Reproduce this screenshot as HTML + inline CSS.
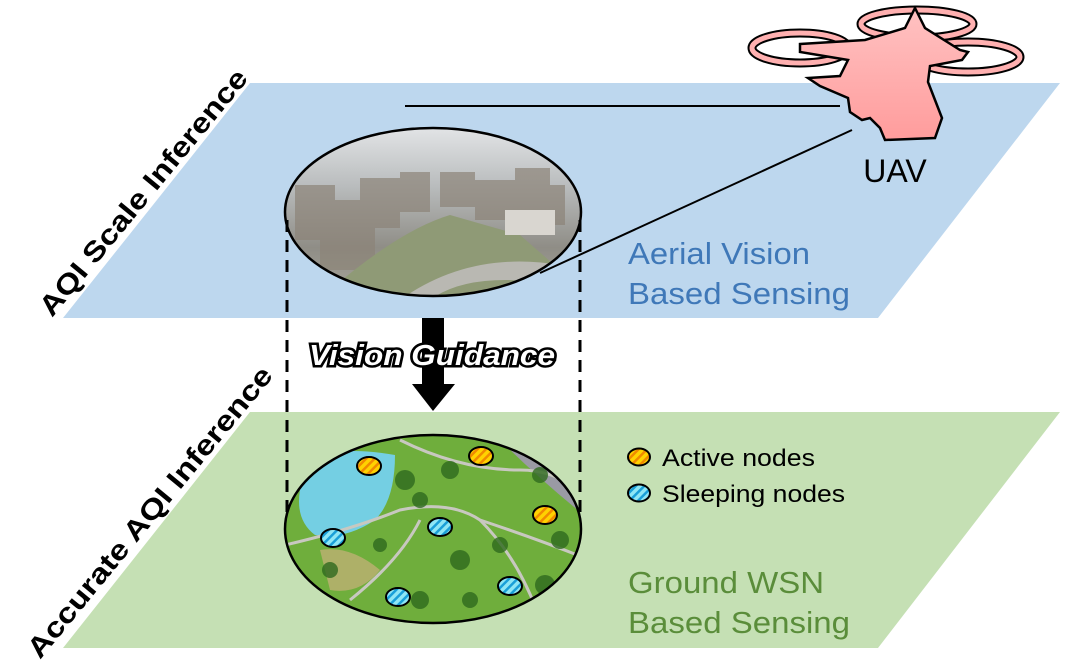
<!DOCTYPE html>
<html><head><meta charset="utf-8"><style>
html,body{margin:0;padding:0;background:#fff;}
svg{display:block;font-family:"Liberation Sans",sans-serif;}
</style></head><body>
<svg width="1073" height="663" viewBox="0 0 1073 663">
<defs>
<linearGradient id="sky" x1="0" y1="0" x2="0" y2="1">
<stop offset="0" stop-color="#e4e6e8"/><stop offset="0.35" stop-color="#b9bcbd"/><stop offset="0.7" stop-color="#8f8d86"/><stop offset="1" stop-color="#a8a69c"/></linearGradient>
<pattern id="ystripe" width="6" height="6" patternUnits="userSpaceOnUse" patternTransform="rotate(45)">
<rect width="6" height="6" fill="#ffd200"/><rect width="2.5" height="6" fill="#f08a00"/></pattern>
<pattern id="bstripe" width="6" height="6" patternUnits="userSpaceOnUse" patternTransform="rotate(45)">
<rect width="6" height="6" fill="#8ee6f5"/><rect width="2.5" height="6" fill="#1a9fd8"/></pattern>
<linearGradient id="drone" x1="0" y1="0" x2="0" y2="1"><stop offset="0" stop-color="#ffc2c2"/><stop offset="1" stop-color="#ff9c9c"/></linearGradient>
<clipPath id="c1"><ellipse cx="433" cy="212" rx="148" ry="84"/></clipPath>
<clipPath id="c2"><ellipse cx="433" cy="529" rx="148" ry="94"/></clipPath>
</defs>

<polygon points="250,83 1060,83 878,318 63,318" fill="#bdd7ee"/>
<polygon points="250,412 1060,412 878,648 63,648" fill="#c5e0b4"/>

<text transform="translate(52,318) rotate(-50.5)" font-size="28" font-weight="bold" textLength="310" lengthAdjust="spacingAndGlyphs">AQI Scale Inference</text>
<text transform="translate(40,660) rotate(-50.5)" font-size="28" font-weight="bold" textLength="368" lengthAdjust="spacingAndGlyphs">Accurate AQI Inference</text>

<line x1="405" y1="106" x2="840" y2="106" stroke="#000" stroke-width="2"/>
<line x1="540" y1="273" x2="852" y2="130" stroke="#000" stroke-width="2"/>

<g clip-path="url(#c1)">
<rect x="280" y="125" width="310" height="175" fill="url(#sky)"/>
<g fill="#8c8478" opacity="0.7">
<rect x="295" y="185" width="40" height="55"/><rect x="320" y="200" width="55" height="70"/><rect x="360" y="178" width="40" height="50"/>
<rect x="400" y="172" width="30" height="40"/><rect x="440" y="172" width="35" height="35"/><rect x="475" y="180" width="50" height="40"/>
<rect x="515" y="168" width="35" height="30"/><rect x="520" y="185" width="45" height="40"/></g>
<path d="M330,290 Q400,230 450,215 L520,235 L560,270 L540,300 Z" fill="#8f9a76"/>
<path d="M400,300 Q470,250 560,265 L560,285 Q470,270 430,300 Z" fill="#b9b8b2"/>
<rect x="505" y="210" width="50" height="25" fill="#d9d6d0"/>
</g>
<ellipse cx="433" cy="212" rx="148" ry="84" fill="none" stroke="#000" stroke-width="2.5"/>

<line x1="287" y1="220" x2="287" y2="528" stroke="#000" stroke-width="3" stroke-dasharray="12,8"/>
<line x1="580" y1="220" x2="580" y2="528" stroke="#000" stroke-width="3" stroke-dasharray="12,8"/>

<g>
<rect x="422" y="318" width="22" height="68" fill="#000"/>
<polygon points="412,384 455,384 433,411" fill="#000"/>
</g>
<text x="432" y="365" text-anchor="middle" font-size="29" font-weight="bold" font-style="italic" fill="#fff" stroke="#000" stroke-width="5" paint-order="stroke" textLength="246" lengthAdjust="spacingAndGlyphs">Vision Guidance</text>

<g clip-path="url(#c2)">
<rect x="280" y="430" width="310" height="200" fill="#6fae3c"/>
<path d="M500,430 L590,430 L590,520 Q540,480 500,440 Z" fill="#9a9aa4"/>
<path d="M300,460 Q340,445 395,455 Q395,500 375,520 Q345,540 315,535 Q295,520 300,490 Z" fill="#74cfe3"/>
<path d="M285,545 Q350,530 400,510 Q450,500 480,520 Q540,540 590,560" fill="none" stroke="#c8c8c0" stroke-width="3"/>
<path d="M420,520 Q400,560 350,600 M480,520 Q520,560 540,620 M400,440 Q460,470 520,470 Q560,470 590,500" fill="none" stroke="#c8c8c0" stroke-width="3"/>
<path d="M320,550 Q350,545 380,570 Q360,595 330,590 Z" fill="#c9b07a" opacity="0.7"/>
<g fill="#2f6a1e" opacity="0.8">
<circle cx="405" cy="480" r="10"/><circle cx="420" cy="500" r="8"/><circle cx="450" cy="470" r="9"/><circle cx="540" cy="475" r="8"/>
<circle cx="460" cy="560" r="10"/><circle cx="500" cy="545" r="8"/><circle cx="560" cy="540" r="9"/><circle cx="330" cy="570" r="8"/>
<circle cx="420" cy="600" r="9"/><circle cx="470" cy="600" r="8"/><circle cx="545" cy="585" r="10"/><circle cx="380" cy="545" r="7"/></g>
</g>
<ellipse cx="433" cy="529" rx="148" ry="94" fill="none" stroke="#000" stroke-width="2.5"/>

<g stroke="#000" stroke-width="2">
<ellipse cx="369" cy="466" rx="12" ry="9" fill="url(#ystripe)"/>
<ellipse cx="481" cy="456" rx="12" ry="9" fill="url(#ystripe)"/>
<ellipse cx="545" cy="515" rx="12" ry="9" fill="url(#ystripe)"/>
<ellipse cx="333" cy="538" rx="12" ry="9" fill="url(#bstripe)"/>
<ellipse cx="440" cy="527" rx="12" ry="9" fill="url(#bstripe)"/>
<ellipse cx="398" cy="597" rx="12" ry="9" fill="url(#bstripe)"/>
<ellipse cx="510" cy="586" rx="12" ry="9" fill="url(#bstripe)"/>
</g>

<g>
<ellipse cx="639" cy="457" rx="11" ry="8.5" fill="url(#ystripe)" stroke="#000" stroke-width="2"/>
<text x="662" y="466" font-size="24" textLength="153" lengthAdjust="spacingAndGlyphs">Active nodes</text>
<ellipse cx="639" cy="493" rx="11" ry="8.5" fill="url(#bstripe)" stroke="#000" stroke-width="2"/>
<text x="662" y="502" font-size="24" textLength="183" lengthAdjust="spacingAndGlyphs">Sleeping nodes</text>
</g>

<text font-size="31" fill="#3f78b8"><tspan x="628" y="264" textLength="182" lengthAdjust="spacingAndGlyphs">Aerial Vision</tspan><tspan x="628" y="304" textLength="222" lengthAdjust="spacingAndGlyphs">Based Sensing</tspan></text>
<text font-size="31" fill="#5a8d3a"><tspan x="628" y="593" textLength="196" lengthAdjust="spacingAndGlyphs">Ground WSN</tspan><tspan x="628" y="633" textLength="222" lengthAdjust="spacingAndGlyphs">Based Sensing</tspan></text>

<g>
<g fill="none">
<ellipse cx="800" cy="48" rx="48" ry="15" stroke="#000" stroke-width="9"/>
<ellipse cx="800" cy="48" rx="48" ry="15" stroke="#ffb0b0" stroke-width="5"/>
<ellipse cx="917" cy="24" rx="56" ry="14" stroke="#000" stroke-width="9"/>
<ellipse cx="917" cy="24" rx="56" ry="14" stroke="#ffb0b0" stroke-width="5"/>
<ellipse cx="968" cy="57" rx="52" ry="15" stroke="#000" stroke-width="9"/>
<ellipse cx="968" cy="57" rx="52" ry="15" stroke="#ffb0b0" stroke-width="5"/>
</g>
<path fill="url(#drone)" stroke="#000" stroke-width="2.5" d="M800,44 L865,40 L905,28 L915,8 L925,28 L960,50 L968,52 L962,60 L930,66 L928,82 L935,100 L942,118 L935,138 L885,140 L880,128 L870,118 L862,120 L850,112 L848,98 L820,86 L808,78 L840,76 L848,60 L800,52 Z"/>
</g>
<text x="895" y="182" text-anchor="middle" font-size="32">UAV</text>
</svg>
</body></html>
